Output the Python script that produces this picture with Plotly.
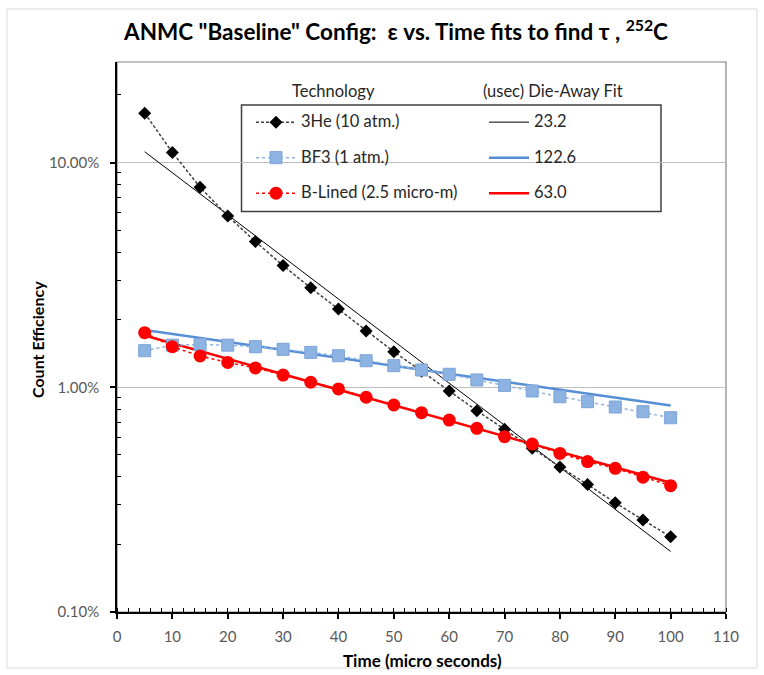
import plotly.graph_objects as go

# ---- data ----
time_us = [5, 10, 15, 20, 25, 30, 35, 40, 45, 50, 55, 60, 65, 70, 75, 80, 85, 90, 95, 100]
he3_eff = [16.6, 11.1, 7.77, 5.79, 4.45, 3.48, 2.77, 2.23, 1.78, 1.44,
           1.18, 0.963, 0.787, 0.650, 0.535, 0.442, 0.369, 0.306, 0.257, 0.216]
bf3_eff = [1.455, 1.54, 1.55, 1.54, 1.516, 1.476, 1.43, 1.382, 1.313, 1.248,
           1.194, 1.143, 1.078, 1.02, 0.963, 0.908, 0.863, 0.817, 0.779, 0.732]
blined_eff = [1.75, 1.516, 1.378, 1.29, 1.22, 1.134, 1.053, 0.983, 0.903, 0.834,
              0.771, 0.715, 0.657, 0.603, 0.559, 0.508, 0.467, 0.436, 0.398, 0.365]

fit_t = [5, 100]
he3_fit = [11.18, 0.186]
bf3_fit = [1.80, 0.829]
blined_fit = [1.70, 0.376]

series_names = ["3He (10 atm.)", "BF3 (1 atm.)", "B-Lined (2.5 micro-m)"]
tau_labels = ["23.2", "122.6", "63.0"]

y_tickvals = [0.1, 1, 10]
y_ticktext = ["0.10%", "1.00%", "10.00%"]
y_minor = [0.2, 0.3, 0.4, 0.5, 0.6, 0.7, 0.8, 0.9,
           2, 3, 4, 5, 6, 7, 8, 9, 20]

# ---- geometry helpers (pixel -> paper) ----
PL, PR, PT, PB = 117, 726, 62, 612
W, H = 764, 675
def px(x):
    return (x - PL) / (PR - PL)
def py(y):
    return (PB - y) / (PB - PT)

FONT = "Lato"
BLUE_PT = "#8DB3E2"
BLUE_PT_EDGE = "#7BA3D8"
BLUE_FIT = "#558ED5"
RED = "#FF0000"
LEG_SIZE = 16.5

fig = go.Figure()

def nm(s):
    return '<span style="font-size:%spx">%s</span><br>\u00a0' % (LEG_SIZE, s)

# fit lines (drawn first, below the markers)
fig.add_trace(go.Scatter(x=fit_t, y=he3_fit, mode="lines", name=nm(tau_labels[0]),
                         line=dict(color="black", width=1), legendrank=2))
fig.add_trace(go.Scatter(x=fit_t, y=bf3_fit, mode="lines", name=nm(tau_labels[1]),
                         line=dict(color=BLUE_FIT, width=2.5), legendrank=4))
fig.add_trace(go.Scatter(x=fit_t, y=blined_fit, mode="lines", name=nm(tau_labels[2]),
                         line=dict(color=RED, width=2.5), legendrank=6))

# data series
fig.add_trace(go.Scatter(x=time_us, y=he3_eff, mode="lines+markers", name=nm(series_names[0]),
                         line=dict(color="#404040", width=1.5, dash="3px,2px"),
                         marker=dict(symbol="diamond", size=10, color="black"),
                         legendrank=1))
fig.add_trace(go.Scatter(x=time_us, y=bf3_eff, mode="lines+markers", name=nm(series_names[1]),
                         line=dict(color=BLUE_PT, width=1.5, dash="dot"),
                         marker=dict(symbol="square", size=12, color=BLUE_PT,
                                     line=dict(color=BLUE_PT_EDGE, width=1)),
                         legendrank=3))
fig.add_trace(go.Scatter(x=time_us, y=blined_eff, mode="lines+markers", name=nm(series_names[2]),
                         line=dict(color=RED, width=1.5, dash="dot"),
                         marker=dict(symbol="circle", size=13, color=RED),
                         legendrank=5))

tickfont = dict(family=FONT, size=15, color="#595959")

fig.update_layout(
    width=W, height=H,
    margin=dict(l=PL, r=W - PR, t=PT, b=H - PB),
    paper_bgcolor="white", plot_bgcolor="white",
    showlegend=True,
    legend=dict(
        orientation="h", x=px(251), y=py(107.5), xanchor="left", yanchor="top",
        entrywidth=178, entrywidthmode="pixels", itemwidth=40, valign="top",
        bgcolor="rgba(0,0,0,0)", borderwidth=0,
        font=dict(family=FONT, size=12.5, color="#262626"),
        traceorder="normal",
    ),
    xaxis=dict(
        range=[0, 110], dtick=10, tick0=0,
        showline=True, linecolor="black", linewidth=1.5,
        ticks="outside", ticklen=5, tickcolor="black", tickwidth=1.5,
        minor=dict(dtick=2, ticks="inside", ticklen=4, tickcolor="black", tickwidth=1, showgrid=False),
        showgrid=False, zeroline=False,
        tickfont=tickfont, ticklabelstandoff=5,
    ),
    yaxis=dict(
        type="log", range=[-1, 1.4477],
        tickvals=y_tickvals, ticktext=y_ticktext,
        showline=True, linecolor="black", linewidth=1.5,
        ticks="outside", ticklen=5, tickcolor="black", tickwidth=1.5,
        minor=dict(tickvals=y_minor, ticks="inside", ticklen=4, tickcolor="black", tickwidth=1, showgrid=False),
        showgrid=True, gridcolor="#BFBFBF", gridwidth=1,
        zeroline=False,
        tickfont=tickfont, ticklabelstandoff=8,
    ),
    shapes=[
        # chart frame
        dict(type="rect", xref="paper", yref="paper", x0=px(7), x1=px(757), y0=py(668), y1=py(9),
             line=dict(color="#D9D9D9", width=1), fillcolor="rgba(0,0,0,0)", layer="below"),
        # plot area border
        dict(type="rect", xref="paper", yref="paper", x0=0, x1=1, y0=0, y1=1,
             line=dict(color="#808080", width=1.2), fillcolor="rgba(0,0,0,0)", layer="between"),
        # legend box
        dict(type="rect", xref="paper", yref="paper", x0=px(241.5), x1=px(661), y0=py(211.5), y1=py(105),
             line=dict(color="#404040", width=1.5), fillcolor="white", layer="between"),
    ],
    annotations=[
        dict(text="<b>ANMC \"Baseline\" Config:\u00a0 ε vs. Time fits to find τ , <sup>252</sup>C</b>",
             xref="paper", yref="paper", x=px(395), y=py(30), xanchor="center", yanchor="middle",
             showarrow=False, font=dict(family=FONT, size=22.5, color="black")),
        dict(text="<b>Count Efficiency</b>", textangle=-90,
             xref="paper", yref="paper", x=px(38), y=py(340), xanchor="center", yanchor="middle",
             showarrow=False, font=dict(family=FONT, size=16, color="black")),
        dict(text="<b>Time (micro seconds)</b>",
             xref="paper", yref="paper", x=px(422), y=py(660), xanchor="center", yanchor="middle",
             showarrow=False, font=dict(family=FONT, size=17, color="black")),
        dict(text="Technology",
             xref="paper", yref="paper", x=px(333), y=py(91), xanchor="center", yanchor="middle",
             showarrow=False, font=dict(family=FONT, size=LEG_SIZE, color="#262626")),
        dict(text="(usec) Die-Away Fit",
             xref="paper", yref="paper", x=px(553), y=py(91), xanchor="center", yanchor="middle",
             showarrow=False, font=dict(family=FONT, size=LEG_SIZE, color="#262626")),
    ],
)

fig.write_html("out.html")
